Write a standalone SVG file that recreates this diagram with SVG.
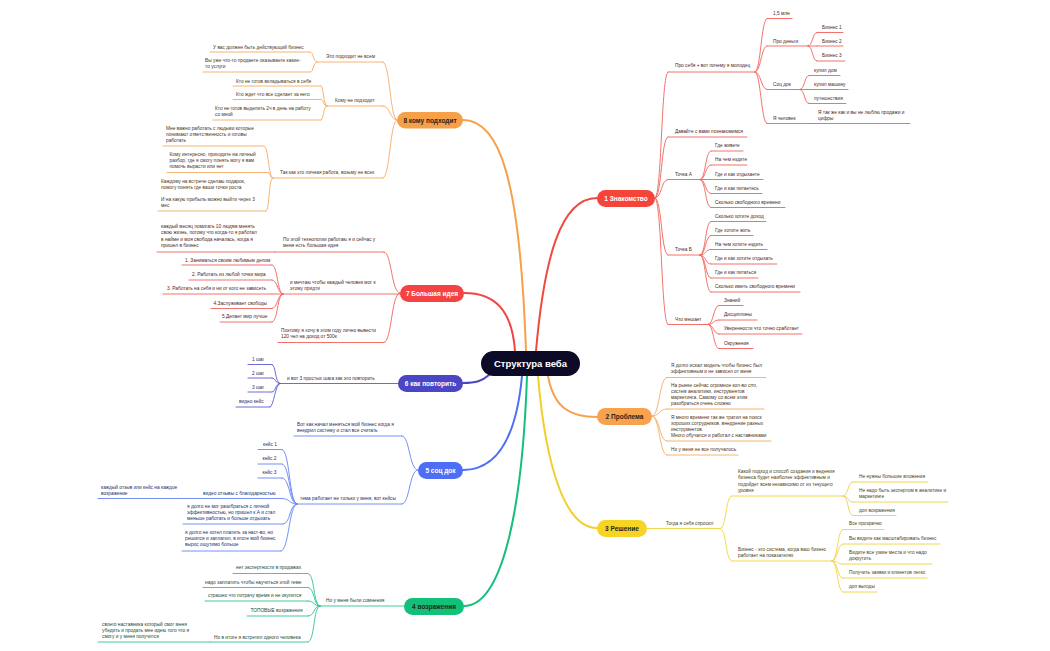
<svg xmlns="http://www.w3.org/2000/svg" width="1050" height="651" viewBox="0 0 1050 651">
<style>
text{font-family:"Liberation Sans",Arial,sans-serif;font-size:4.8px}
.tr{fill:#4d2828}.to{fill:#4d3520}.ty{fill:#4a4212}.tg{fill:#1c4a38}.tb{fill:#22306a}.ti{fill:#2c2a62}
.lr,.lo,.ly,.lg,.lb,.li{fill:none;stroke-width:0.9;stroke-linecap:round}
.lr{stroke:#f0625a}.lo{stroke:#f5ab62}.ly{stroke:#f0d23c}.lg{stroke:#2cc48c}.lb{stroke:#6785f5}.li{stroke:#5e5ad0}
.m{fill:none;stroke-width:2;stroke-linecap:round}
.p text{font-size:6.5px;font-weight:bold;text-anchor:middle}
.ct{font-size:9.5px;font-weight:bold;text-anchor:middle;fill:#ffffff}
.w{fill:#ffffff}.d{fill:#2a2418}
</style>
<rect width="1050" height="651" fill="#ffffff"/>
<g id="connectors">
<path class="m" stroke="#f04a40" d="M536 351 C544 260 560 198 597 198"/>
<path class="m" stroke="#f7a24e" d="M548 376 C554 408 570 417 597 417"/>
<path class="m" stroke="#f2cf2a" d="M538 376 C546 470 566 528 597 528"/>
<path class="m" stroke="#14bf7b" d="M527 376 C522 520 500 606 464 606"/>
<path class="m" stroke="#4d6ef5" d="M522 376 C516 440 495 470 463 470"/>
<path class="m" stroke="#4a46c4" d="M489 375 C482 381 476 383 463 383"/>
<path class="m" stroke="#f04444" d="M515 351 C512 310 495 293 464 293"/>
<path class="m" stroke="#f7a04a" d="M526 351 C520 180 500 120 463 120"/>
<g class="lr">
<path d="M655 198 C662 198 661 72 668 72"/>
<path d="M655 198 C662 198 661 137 668 137"/>
<path d="M655 198 C662 198 661 179.5 668 179.5"/>
<path d="M655 198 C662 198 661 255 668 255"/>
<path d="M655 198 C662 198 661 324.5 668 324.5"/>
<path d="M755 72 C761 72 761 18.5 767 18.5"/>
<path d="M755 72 C761 72 761 46 767 46"/>
<path d="M755 72 C761 72 761 89.5 767 89.5"/>
<path d="M755 72 C761 72 761 123.5 767 123.5"/>
<path d="M808 46 C813 46 812 32.5 817 32.5"/>
<path d="M808 46 H817"/>
<path d="M808 46 C813 46 812 61 817 61"/>
<path d="M800 89.5 C805 89.5 804 75.5 809 75.5"/>
<path d="M800 89.5 H809"/>
<path d="M800 89.5 C805 89.5 804 103.5 809 103.5"/>
<path d="M700 179.5 C706 179.5 705 151 711 151"/>
<path d="M700 179.5 C706 179.5 705 165 711 165"/>
<path d="M700 179.5 H711"/>
<path d="M700 179.5 C706 179.5 705 193.5 711 193.5"/>
<path d="M700 179.5 C706 179.5 705 207.5 711 207.5"/>
<path d="M700 255 C706 255 705 221.5 711 221.5"/>
<path d="M700 255 C706 255 705 235.5 711 235.5"/>
<path d="M700 255 C706 255 705 249.5 711 249.5"/>
<path d="M700 255 C706 255 705 264 711 264"/>
<path d="M700 255 C706 255 705 278 711 278"/>
<path d="M700 255 C706 255 705 292 711 292"/>
<path d="M708 324.5 C714 324.5 713 305.5 719 305.5"/>
<path d="M708 324.5 C714 324.5 713 320 719 320"/>
<path d="M708 324.5 C714 324.5 713 334 719 334"/>
<path d="M708 324.5 C714 324.5 713 348.5 719 348.5"/>
</g>
<g class="lo">
<path d="M652 416 C660 416 659 377.5 667 377.5"/>
<path d="M652 416 C660 416 659 409 667 409"/>
<path d="M652 416 C660 416 659 441 667 441"/>
<path d="M652 416 C660 416 659 455 667 455"/>
<path d="M397 120 C390 120 390 62 383 62"/>
<path d="M397 120 C390 120 390 106 383 106"/>
<path d="M397 120 C390 120 390 178 383 178"/>
<path d="M317 62 C313 62 314 52 310 52"/>
<path d="M317 62 C313 62 314 72 310 72"/>
<path d="M327 106 C323 106 324 86 321 86"/>
<path d="M327 106 C323 106 324 99.5 321 99.5"/>
<path d="M327 106 C323 106 324 120 321 120"/>
<path d="M273 178 C268 178 269 146 264 146"/>
<path d="M273 178 C268 178 272 172.5 268 172.5"/>
<path d="M273 178 C268 178 270 211 266 211"/>
</g>
<g class="ly">
<path d="M647 528.5 H657"/>
<path d="M720 528.5 C727 528.5 725 496 732 496"/>
<path d="M720 528.5 C727 528.5 725 561 732 561"/>
<path d="M843 496 C849 496 847 482 853 482"/>
<path d="M843 496 C849 496 847 502 853 502"/>
<path d="M843 496 C849 496 847 515.5 853 515.5"/>
<path d="M832 561 C838 561 837 529.5 843 529.5"/>
<path d="M832 561 C838 561 837 544 843 544"/>
<path d="M832 561 C838 561 837 564 843 564"/>
<path d="M832 561 C838 561 837 578 843 578"/>
<path d="M832 561 C838 561 837 592 843 592"/>
</g>
<g class="lg">
<path d="M320 606 C313 606 315 573.5 308 573.5"/>
<path d="M320 606 C313 606 315 587.5 308 587.5"/>
<path d="M320 606 C313 606 315 601 308 601"/>
<path d="M320 606 C313 606 315 616 308 616"/>
<path d="M320 606 C313 606 315 642 308 642"/>
</g>
<g class="lb">
<path d="M418 470 C409 470 410 436 402 436"/>
<path d="M418 470 C409 470 410 504 402 504"/>
<path d="M297 504 C289 504 290 449.5 282 449.5"/>
<path d="M297 504 C289 504 290 464 282 464"/>
<path d="M297 504 C289 504 290 478 282 478"/>
<path d="M297 504 C289 504 290 498.5 282 498.5"/>
<path d="M297 504 C289 504 291 524 283 524"/>
<path d="M297 504 C289 504 289 551 281 551"/>
</g>
<g class="li">
<path d="M280 383.5 C275 383.5 276 364.5 272 364.5"/>
<path d="M280 383.5 C275 383.5 276 378 272 378"/>
<path d="M280 383.5 C275 383.5 276 392 272 392"/>
<path d="M280 383.5 C275 383.5 274 407 270 407"/>
</g>
<g class="lr">
<path d="M400 293 C391 293 392 252 384 252"/>
<path d="M400 293 C391 293 392 342.5 384 342.5"/>
<path d="M283 294 C277 294 278 265 272 265"/>
<path d="M283 294 C277 294 278 280 272 280"/>
<path d="M283 294 H272"/>
<path d="M283 294 C277 294 278 308.5 272 308.5"/>
<path d="M283 294 C277 294 278 322 272 322"/>
</g>
</g>

<g id="center"><rect x="481" y="351" width="99" height="25" rx="12.5" fill="#0c0a26"/><text class="ct" x="530.5" y="367">Структура веба</text></g>

<g id="b1" class="p"><rect x="597" y="190" width="58" height="17" rx="8.5" fill="#f5443a"/><text class="w" x="626" y="200.8">1 Знакомство</text></g>
<g id="b2" class="p"><rect x="597" y="408" width="55" height="17" rx="8.5" fill="#f7a24e"/><text class="d" x="624.5" y="418.8">2 Проблема</text></g>
<g id="b3" class="p"><rect x="597" y="520" width="50" height="17" rx="8.5" fill="#f5d426"/><text class="d" x="622" y="530.8">3 Решение</text></g>
<g id="b4" class="p"><rect x="404" y="598" width="60" height="17" rx="8.5" fill="#13c07a"/><text class="d" x="434" y="608.8">4 возражения</text></g>
<g id="b5" class="p"><rect x="418" y="462" width="45" height="17" rx="8.5" fill="#4d6ef5"/><text class="w" x="440.5" y="472.8">5 соц док</text></g>
<g id="b6" class="p"><rect x="398" y="375" width="65" height="17" rx="8.5" fill="#4a46c4"/><text class="w" x="430.5" y="385.8">6 как повторить</text></g>
<g id="b7" class="p"><rect x="400" y="285" width="64" height="17" rx="8.5" fill="#f54343"/><text class="w" x="432" y="295.8">7 Большая идея</text></g>
<g id="b8" class="p"><rect x="397" y="112" width="66" height="16.5" rx="8.2" fill="#f7a04a"/><text class="d" x="430" y="122.5">8 кому подходит</text></g>

<!-- Branch 1 -->
<g id="n1a"><line class="lr" x1="668" y1="72" x2="755" y2="72"/><text class="tr" x="675" y="67">Про себя + вот почему я молодец</text></g>
<g id="n1a1"><line class="lr" x1="767" y1="18.5" x2="792" y2="18.5"/><text class="tr" x="773" y="14.5">1,5 млн</text></g>
<g id="n1a2"><line class="lr" x1="767" y1="46" x2="808" y2="46"/><text class="tr" x="773" y="42.5">Про деньги</text></g>
<g id="n1a2a"><line class="lr" x1="817" y1="32.5" x2="843" y2="32.5"/><text class="tr" x="822" y="28.5">Бизнес 1</text></g>
<g id="n1a2b"><line class="lr" x1="817" y1="46" x2="843" y2="46"/><text class="tr" x="822" y="42.5">Бизнес 2</text></g>
<g id="n1a2c"><line class="lr" x1="817" y1="61" x2="845" y2="61"/><text class="tr" x="822" y="57">Бизнес 3</text></g>
<g id="n1a3"><line class="lr" x1="767" y1="89.5" x2="800" y2="89.5"/><text class="tr" x="773" y="85.5">Соц док</text></g>
<g id="n1a3a"><line class="lr" x1="809" y1="75.5" x2="840" y2="75.5"/><text class="tr" x="814" y="71.5">купил дом</text></g>
<g id="n1a3b"><line class="lr" x1="809" y1="89.5" x2="848" y2="89.5"/><text class="tr" x="814" y="85.5">купил машину</text></g>
<g id="n1a3c"><line class="lr" x1="809" y1="103.5" x2="846" y2="103.5"/><text class="tr" x="814" y="99.5">путешествия</text></g>
<g id="n1a4"><line class="lr" x1="767" y1="123.5" x2="815" y2="123.5"/><text class="tr" x="773" y="119.5">Я человек</text></g>
<g id="n1a4a"><line class="lr" x1="815" y1="123.5" x2="910" y2="123.5"/><text class="tr" x="818" y="113.5">Я так же как и вы не люблю продажи и</text><text class="tr" x="818" y="119.5">цифры</text></g>
<g id="n1b"><line class="lr" x1="668" y1="137" x2="747" y2="137"/><text class="tr" x="675" y="133">Давайте с вами познакомимся</text></g>
<g id="n1c"><line class="lr" x1="668" y1="179.5" x2="700" y2="179.5"/><text class="tr" x="675" y="175.5">Точка А</text></g>
<g id="n1c1"><line class="lr" x1="711" y1="151" x2="743" y2="151"/><text class="tr" x="715" y="147">Где живете</text></g>
<g id="n1c2"><line class="lr" x1="711" y1="165" x2="747" y2="165"/><text class="tr" x="715" y="161">На чем ездите</text></g>
<g id="n1c3"><line class="lr" x1="711" y1="179.5" x2="763" y2="179.5"/><text class="tr" x="715" y="175.5">Где и как отдыхаете</text></g>
<g id="n1c4"><line class="lr" x1="711" y1="193.5" x2="762" y2="193.5"/><text class="tr" x="715" y="189.5">Где и как питаетесь</text></g>
<g id="n1c5"><line class="lr" x1="711" y1="207.5" x2="785" y2="207.5"/><text class="tr" x="715" y="203.5">Сколько свободного времени</text></g>
<g id="n1d"><line class="lr" x1="668" y1="255" x2="700" y2="255"/><text class="tr" x="675" y="251">Точка Б</text></g>
<g id="n1d1"><line class="lr" x1="711" y1="221.5" x2="766" y2="221.5"/><text class="tr" x="715" y="217.5">Сколько хотите доход</text></g>
<g id="n1d2"><line class="lr" x1="711" y1="235.5" x2="753" y2="235.5"/><text class="tr" x="715" y="231.5">Где хотите жить</text></g>
<g id="n1d3"><line class="lr" x1="711" y1="249.5" x2="767" y2="249.5"/><text class="tr" x="715" y="245.5">На чем хотите ездить</text></g>
<g id="n1d4"><line class="lr" x1="711" y1="264" x2="777" y2="264"/><text class="tr" x="715" y="260">Где и как хотите отдыхать</text></g>
<g id="n1d5"><line class="lr" x1="711" y1="278" x2="758" y2="278"/><text class="tr" x="715" y="274">Где и как питаться</text></g>
<g id="n1d6"><line class="lr" x1="711" y1="292" x2="800" y2="292"/><text class="tr" x="715" y="288">Сколько иметь свободного времени</text></g>
<g id="n1e"><line class="lr" x1="668" y1="324.5" x2="708" y2="324.5"/><text class="tr" x="675" y="320.5">Что мешает</text></g>
<g id="n1e1"><line class="lr" x1="719" y1="305.5" x2="743" y2="305.5"/><text class="tr" x="724" y="301.5">Знаний</text></g>
<g id="n1e2"><line class="lr" x1="719" y1="320" x2="757" y2="320"/><text class="tr" x="724" y="316">Дисциплины</text></g>
<g id="n1e3"><line class="lr" x1="719" y1="334" x2="802" y2="334"/><text class="tr" x="724" y="330">Уверенности что точно сработает</text></g>
<g id="n1e4"><line class="lr" x1="719" y1="348.5" x2="753" y2="348.5"/><text class="tr" x="724" y="344.5">Окружения</text></g>

<!-- Branch 2 -->
<g id="n2a"><line class="lo" x1="667" y1="377.5" x2="766" y2="377.5"/><text class="to" x="671" y="367">Я долго искал модель чтобы бизнес был</text><text class="to" x="671" y="373.3">эффективным и не зависел от меня</text></g>
<g id="n2b"><line class="lo" x1="667" y1="409" x2="764" y2="409"/><text class="to" x="671" y="386.5">На рынке сейчас огромное кол-во crm,</text><text class="to" x="671" y="392.7">систем аналитики, инструментов</text><text class="to" x="671" y="398.9">маркетинга. Самому со всем этим</text><text class="to" x="671" y="405.1">разобраться очень сложно</text></g>
<g id="n2c"><line class="lo" x1="667" y1="441" x2="771" y2="441"/><text class="to" x="671" y="418.5">Я много времени так же тратил на поиск</text><text class="to" x="671" y="424.7">хороших сотрудников, внедрение разных</text><text class="to" x="671" y="430.9">инструментов.</text><text class="to" x="671" y="437.1">Много обучался и работал с наставниками</text></g>
<g id="n2d"><line class="lo" x1="667" y1="455" x2="738" y2="455"/><text class="to" x="671" y="451">Но у меня не все получалось</text></g>

<!-- Branch 3 -->
<g id="n3a"><line class="ly" x1="657" y1="528.5" x2="720" y2="528.5"/><text class="ty" x="666" y="524.5">Тогда я себя спросил</text></g>
<g id="n3a1"><line class="ly" x1="732" y1="496" x2="843" y2="496"/><text class="ty" x="738" y="473">Какой подход и способ создания и ведения</text><text class="ty" x="738" y="479.3">бизнеса будет наиболее эффективным и</text><text class="ty" x="738" y="485.6">подойдет всем независимо от из текущего</text><text class="ty" x="738" y="491.9">уровня</text></g>
<g id="n3a1a"><line class="ly" x1="853" y1="482" x2="928" y2="482"/><text class="ty" x="859" y="477.5">Не нужны большие вложения</text></g>
<g id="n3a1b"><line class="ly" x1="853" y1="502" x2="948" y2="502"/><text class="ty" x="859" y="492">Не надо быть экспертом в аналитике и</text><text class="ty" x="859" y="498">маркетинге</text></g>
<g id="n3a1c"><line class="ly" x1="853" y1="515.5" x2="896" y2="515.5"/><text class="ty" x="859" y="511.5">доп возражения</text></g>
<g id="n3a2"><line class="ly" x1="732" y1="561" x2="832" y2="561"/><text class="ty" x="738" y="550.5">Бизнес - это система, когда ваш бизнес</text><text class="ty" x="738" y="556.7">работает на показателях</text></g>
<g id="n3a2a"><line class="ly" x1="843" y1="529.5" x2="884" y2="529.5"/><text class="ty" x="849" y="525">Все прозрачно</text></g>
<g id="n3a2b"><line class="ly" x1="843" y1="544" x2="940" y2="544"/><text class="ty" x="849" y="540">Вы видите как масштабировать бизнес</text></g>
<g id="n3a2c"><line class="ly" x1="843" y1="564" x2="932" y2="564"/><text class="ty" x="849" y="553.5">Видите все узкие места и что надо</text><text class="ty" x="849" y="559.7">докрутить</text></g>
<g id="n3a2d"><line class="ly" x1="843" y1="578" x2="927" y2="578"/><text class="ty" x="849" y="574">Получить заявки и клиентов легко</text></g>
<g id="n3a2e"><line class="ly" x1="843" y1="592" x2="877" y2="592"/><text class="ty" x="849" y="588">доп выгоды</text></g>

<!-- Branch 4 -->
<g id="n4a"><line class="lg" x1="320" y1="606" x2="404" y2="606"/><text class="tg" x="326" y="602">Но у меня были сомнения</text></g>
<g id="n4a1"><line class="lg" x1="233" y1="573.5" x2="308" y2="573.5"/><text class="tg" x="236" y="569">нет экспертности в продажах</text></g>
<g id="n4a2"><line class="lg" x1="203" y1="587.5" x2="308" y2="587.5"/><text class="tg" x="205" y="583.5">надо заплатить чтобы научиться этой теме</text></g>
<g id="n4a3"><line class="lg" x1="205" y1="601" x2="308" y2="601"/><text class="tg" x="208" y="597">страшно что потрачу время и не окупится</text></g>
<g id="n4a4"><line class="lg" x1="247" y1="616" x2="308" y2="616"/><text class="tg" x="250.5" y="612">ТОПОВЫЕ возражения</text></g>
<g id="n4a5"><line class="lg" x1="210" y1="642" x2="308" y2="642"/><text class="tg" x="214" y="638.5">Но в итоге я встретил одного человека</text></g>
<g id="n4a5a"><line class="lg" x1="98" y1="642" x2="210" y2="642"/><text class="tg" x="102" y="626">своего наставника который смог меня</text><text class="tg" x="102" y="632">убедить и продать мне идею того что я</text><text class="tg" x="102" y="638">смогу и у меня получится</text></g>

<!-- Branch 5 -->
<g id="n5a"><line class="lb" x1="294" y1="436" x2="402" y2="436"/><text class="tb" x="297" y="426">Вот как начал меняться мой бизнес когда я</text><text class="tb" x="297" y="432">внедрил систему и стал все считать</text></g>
<g id="n5b"><line class="lb" x1="297" y1="504" x2="402" y2="504"/><text class="tb" x="300" y="500">тема работает не только у меня, вот кейсы</text></g>
<g id="n5b1"><line class="lb" x1="258" y1="449.5" x2="282" y2="449.5"/><text class="tb" x="263" y="445.5">кейс 1</text></g>
<g id="n5b2"><line class="lb" x1="258" y1="464" x2="282" y2="464"/><text class="tb" x="262.5" y="460">кейс 2</text></g>
<g id="n5b3"><line class="lb" x1="258" y1="478" x2="282" y2="478"/><text class="tb" x="262.5" y="474">кейс 3</text></g>
<g id="n5b4"><line class="lb" x1="200" y1="498.5" x2="282" y2="498.5"/><text class="tb" x="203" y="494.5">видео отзывы с благодарностью</text></g>
<g id="n5b4a"><line class="lb" x1="98" y1="498.5" x2="200" y2="498.5"/><text class="tb" x="101" y="488.5">каждый отзыв или кейс на каждое</text><text class="tb" x="101" y="494.5">возражение</text></g>
<g id="n5b5"><line class="lb" x1="183" y1="524" x2="283" y2="524"/><text class="tb" x="187" y="508">я долго не мог разобраться с личной</text><text class="tb" x="187" y="514">эффективностью, но пришел к А и стал</text><text class="tb" x="187" y="520">меньше работать и больше отдыхать</text></g>
<g id="n5b6"><line class="lb" x1="182" y1="551" x2="281" y2="551"/><text class="tb" x="185" y="534">я долго не хотел платить за наст-во, но</text><text class="tb" x="185" y="540.2">решился и заплатил, в итоге мой бизнес</text><text class="tb" x="185" y="546.4">вырос ощутимо больше</text></g>

<!-- Branch 6 -->
<g id="n6a"><line class="li" x1="280" y1="383.5" x2="398" y2="383.5"/><text class="ti" x="287" y="379.5">и вот 3 простых шага как это повторить</text></g>
<g id="n6a1"><line class="li" x1="248" y1="364.5" x2="272" y2="364.5"/><text class="ti" x="252" y="360.5">1 шаг</text></g>
<g id="n6a2"><line class="li" x1="248" y1="378" x2="272" y2="378"/><text class="ti" x="252" y="374.5">2 шаг</text></g>
<g id="n6a3"><line class="li" x1="248" y1="392" x2="272" y2="392"/><text class="ti" x="252" y="388.5">3 шаг</text></g>
<g id="n6a4"><line class="li" x1="236" y1="407" x2="270" y2="407"/><text class="ti" x="239" y="403">видео кейс</text></g>

<!-- Branch 7 -->
<g id="n7a"><line class="lr" x1="275" y1="252" x2="384" y2="252"/><text class="tr" x="283" y="241">По этой технологии работаю я и сейчас у</text><text class="tr" x="283" y="247.3">меня есть большая идея</text></g>
<g id="n7a1"><line class="lr" x1="157" y1="252" x2="275" y2="252"/><text class="tr" x="161" y="227.5">каждый месяц помогать 10 людям менять</text><text class="tr" x="161" y="234">свою жизнь, потому что когда-то я работал</text><text class="tr" x="161" y="240.5">в найме и моя свобода началась, когда я</text><text class="tr" x="161" y="247">пришел в бизнес</text></g>
<g id="n7b"><line class="lr" x1="283" y1="294" x2="400" y2="294"/><text class="tr" x="290" y="283.5">и мечтаю чтобы каждый человек мог к</text><text class="tr" x="290" y="290">этому придти</text></g>
<g id="n7b1"><line class="lr" x1="182" y1="265" x2="272" y2="265"/><text class="tr" x="185" y="261.5">1. Заниматься своим любимым делом</text></g>
<g id="n7b2"><line class="lr" x1="189" y1="280" x2="272" y2="280"/><text class="tr" x="192" y="275.5">2. Работать из любой точки мира</text></g>
<g id="n7b3"><line class="lr" x1="163" y1="294" x2="272" y2="294"/><text class="tr" x="167" y="290">3. Работать на себя и ни от кого не зависеть</text></g>
<g id="n7b4"><line class="lr" x1="211" y1="308.5" x2="272" y2="308.5"/><text class="tr" x="213.5" y="304.5">4.Заслуживает свободы</text></g>
<g id="n7b5"><line class="lr" x1="220" y1="322" x2="272" y2="322"/><text class="tr" x="222" y="318">5.Делает мир лучше</text></g>
<g id="n7c"><line class="lr" x1="278" y1="342.5" x2="384" y2="342.5"/><text class="tr" x="281" y="332">Поэтому я хочу в этом году лично вывести</text><text class="tr" x="281" y="338.2">120 чел на доход от 500к</text></g>

<!-- Branch 8 -->
<g id="n8a"><line class="lo" x1="317" y1="62" x2="383" y2="62"/><text class="to" x="326" y="58.3">Это подходит не всем</text></g>
<g id="n8a1"><line class="lo" x1="210" y1="52" x2="310" y2="52"/><text class="to" x="213" y="48.5">У вас должен быть действующий бизнес</text></g>
<g id="n8a2"><line class="lo" x1="203" y1="72" x2="310" y2="72"/><text class="to" x="205" y="62">Вы уже что-то продаете оказываете какие-</text><text class="to" x="205" y="68.3">то услуги</text></g>
<g id="n8b"><line class="lo" x1="327" y1="106" x2="383" y2="106"/><text class="to" x="335" y="102">Кому не подходит</text></g>
<g id="n8b1"><line class="lo" x1="233" y1="86" x2="321" y2="86"/><text class="to" x="236" y="82.5">Кто не готов вкладываться в себя</text></g>
<g id="n8b2"><line class="lo" x1="233" y1="99.5" x2="321" y2="99.5"/><text class="to" x="236" y="96">Кто ждет что все сделает за него</text></g>
<g id="n8b3"><line class="lo" x1="213" y1="120" x2="321" y2="120"/><text class="to" x="215" y="110">Кто не готов выделить 2ч в день на работу</text><text class="to" x="215" y="116.3">со мной</text></g>
<g id="n8c"><line class="lo" x1="273" y1="178" x2="383" y2="178"/><text class="to" x="280" y="173.5">Так как это личная работа, возьму не всех</text></g>
<g id="n8c1"><line class="lo" x1="163" y1="146" x2="264" y2="146"/><text class="to" x="166" y="130">Мне важно работать с людьми которые</text><text class="to" x="166" y="136">понимают ответственность и готовы</text><text class="to" x="166" y="142">работать</text></g>
<g id="n8c2"><line class="lo" x1="167" y1="172.5" x2="268" y2="172.5"/><text class="to" x="169.5" y="156">Кому интересно, приходите на личный</text><text class="to" x="169.5" y="162.2">разбор, где я смогу понять могу я вам</text><text class="to" x="169.5" y="168.4">помочь вырасти или нет</text></g>
<g id="n8c3"><line class="lo" x1="158" y1="211" x2="266" y2="211"/><text class="to" x="161" y="183">Каждому на встрече сделаю подарок,</text><text class="to" x="161" y="189.2">помогу понять где ваши точки роста</text><text class="to" x="161" y="200.5">И на какую прибыль можно выйти через 3</text><text class="to" x="161" y="206.7">мес</text></g>
</svg>
